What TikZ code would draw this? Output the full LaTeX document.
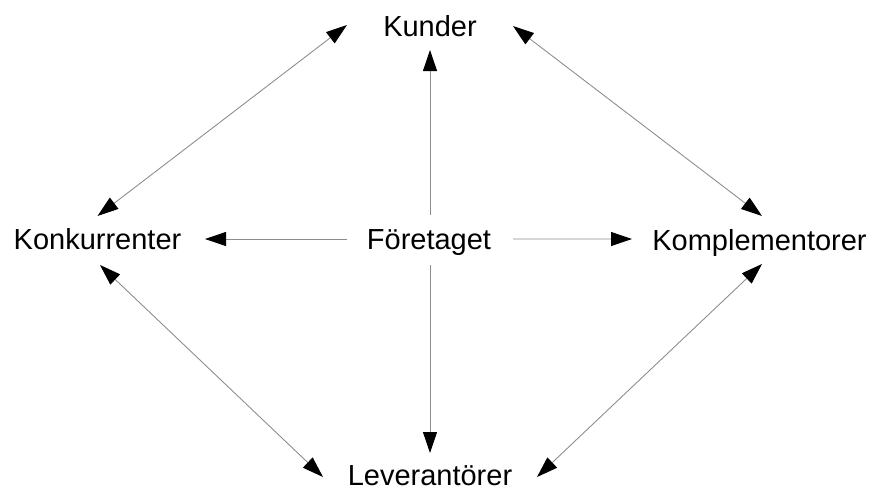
\documentclass[tikz,border=0pt]{standalone}
\usepackage{fontspec}
\setmainfont{Liberation Sans}
\usetikzlibrary{arrows.meta}

\tikzset{
  actor/.style={inner sep=0pt, anchor=base, font=\fontsize{16.5pt}{20pt}\selectfont},
  link/.style={draw=black!45, line width=0.5pt, <->},
  flow/.style={draw=black!45, line width=0.5pt, ->}
}

\begin{document}
\begin{tikzpicture}[>={Triangle[length=0.42cm,width=0.28cm,color=black]}]
    \useasboundingbox (0,0) rectangle (17.52,-9.78);

    % The five actors
    \node[actor] (kunder) at (8.6,-0.72) {Kunder};
    \node[actor] (konk)   at (1.95,-4.98) {Konkurrenter};
    \node[actor] (foret)  at (8.58,-4.98) {Företaget};
    \node[actor] (komp)   at (15.19,-5.0) {Komplementorer};
    \node[actor] (lev)    at (8.6,-9.7) {Leverantörer};

    % From the company outwards
    \draw[flow] ([shift={(0.02,0.68)}]foret.base) -- ([shift={(0,-0.28)}]kunder.base);
    \draw[flow] ([shift={(0.02,-0.32)}]foret.base) -- ([shift={(0,0.64)}]lev.base);
    \draw[flow] ([shift={(-1.64,0.2)}]foret.base) -- ([shift={(2.15,0.2)}]konk.base);
    \draw[flow] ([shift={(1.68,0.2)}]foret.base) -- ([shift={(-2.55,0.22)}]komp.base);

    % Links around the outside
    \draw[link] ([shift={(-1.66,0.22)}]kunder.base) -- ([shift={(0,0.66)}]konk.base);
    \draw[link] ([shift={(1.66,0.2)}]kunder.base) -- ([shift={(0.05,0.68)}]komp.base);
    \draw[link] ([shift={(0.05,-0.32)}]konk.base) -- ([shift={(-2.14,0.16)}]lev.base);
    \draw[link] ([shift={(0.05,-0.28)}]komp.base) -- ([shift={(2.14,0.16)}]lev.base);
\end{tikzpicture}
\end{document}
